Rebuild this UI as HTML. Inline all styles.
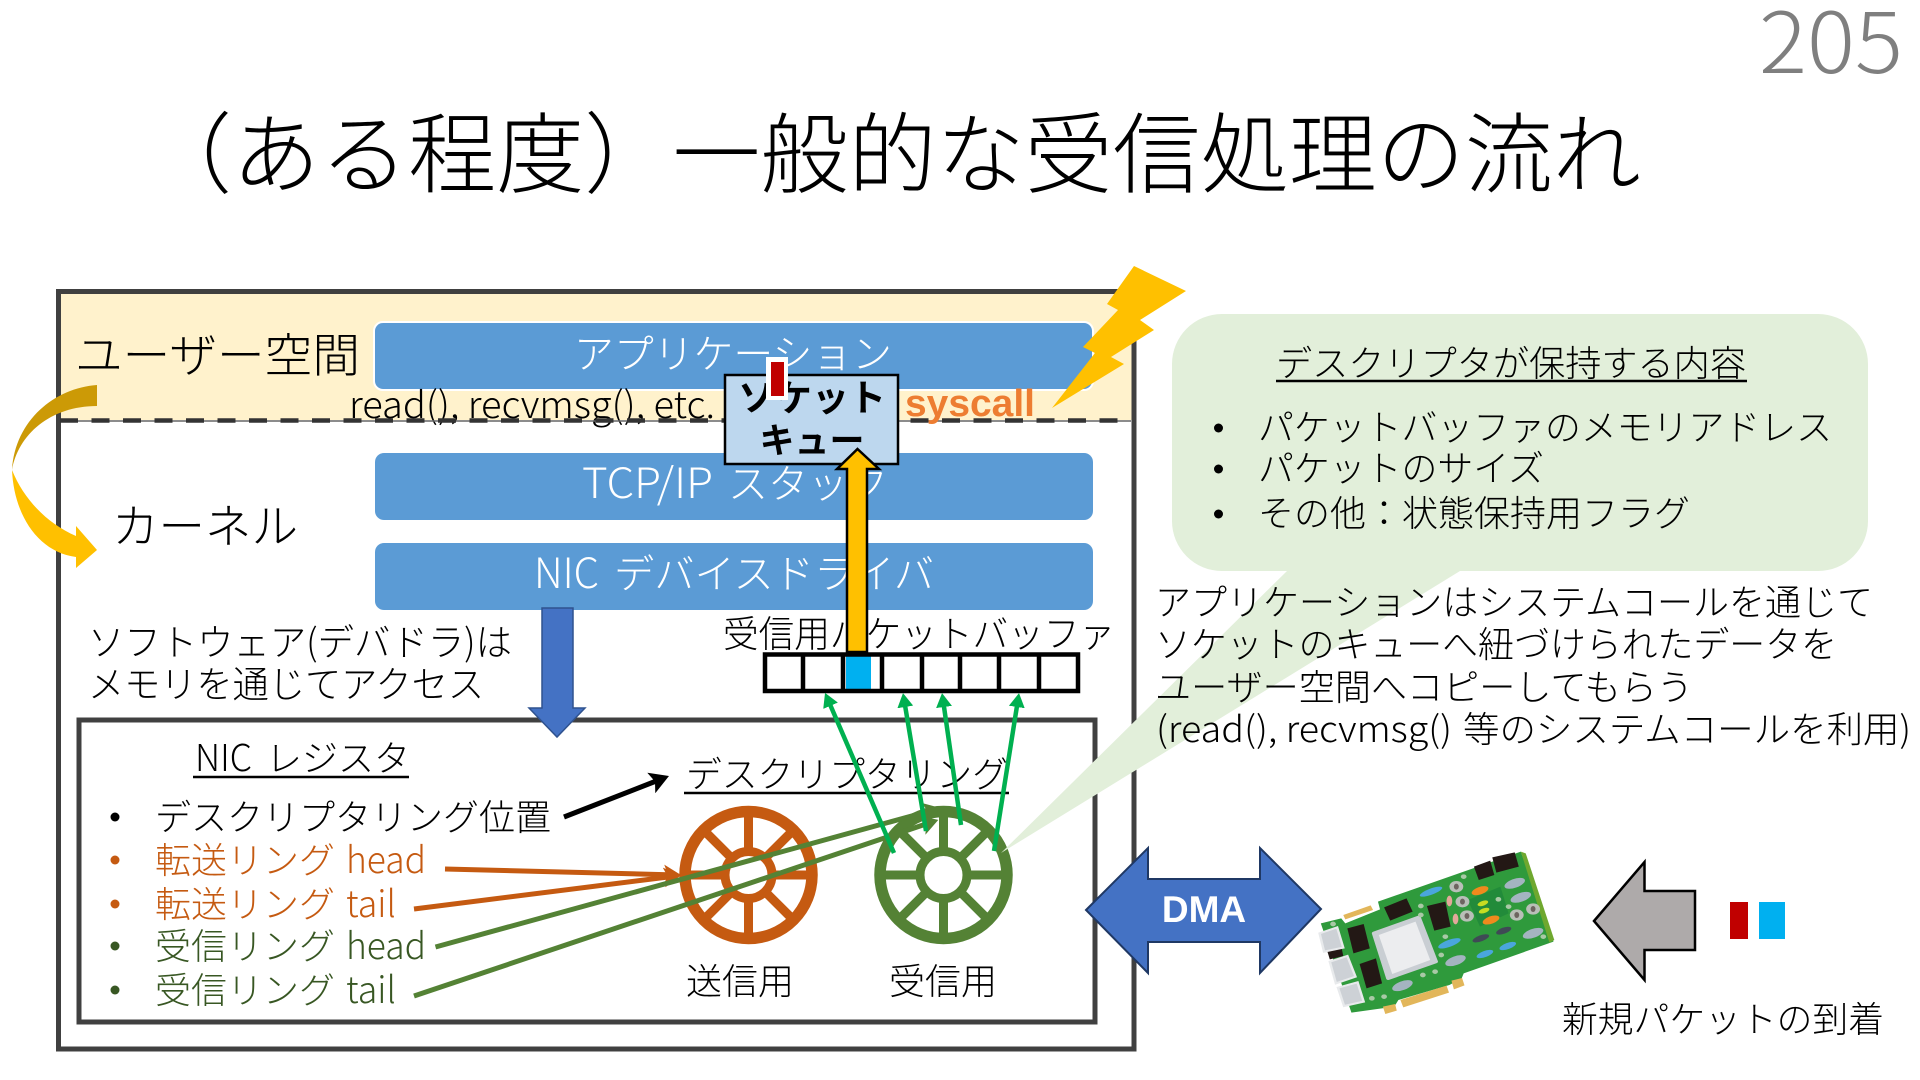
<!DOCTYPE html>
<html lang="ja"><head><meta charset="utf-8"><title>一般的な受信処理の流れ</title>
<style>
html,body{margin:0;padding:0;background:#fff;width:1920px;height:1080px;overflow:hidden}
svg{display:block}
text{font-family:"Noto Sans CJK JP","Liberation Sans","IPAGothic",sans-serif;font-weight:300}
.b{font-weight:700}
.l{font-family:"Liberation Sans","Noto Sans CJK JP",sans-serif}
</style></head><body>
<svg width="1920" height="1080" viewBox="0 0 1920 1080" xmlns="http://www.w3.org/2000/svg">
<defs>
<marker id="mg" markerUnits="userSpaceOnUse" markerWidth="20" markerHeight="20" refX="3" refY="8" orient="auto"><path d="M0,0L14,8L0,16Z" fill="#00B050"/></marker>
<marker id="mk" markerUnits="userSpaceOnUse" markerWidth="24" markerHeight="24" refX="4" refY="11" orient="auto"><path d="M0,0L19,11L0,22L4,11Z" fill="#000"/></marker>
<marker id="mo" markerUnits="userSpaceOnUse" markerWidth="24" markerHeight="24" refX="4" refY="11" orient="auto"><path d="M0,1L17,11L0,21L4,11Z" fill="#C55A11"/></marker>
<marker id="mh" markerUnits="userSpaceOnUse" markerWidth="24" markerHeight="24" refX="4" refY="11" orient="auto"><path d="M0,1L17,11L0,21L4,11Z" fill="#548235"/></marker>
</defs>

<text x="1759" y="73" font-size="84" fill="#7f7f7f" textLength="144" lengthAdjust="spacingAndGlyphs">205</text>
<text x="144" y="186" font-size="88" fill="#000" textLength="1497" lengthAdjust="spacingAndGlyphs">（ある程度）一般的な受信処理の流れ</text>

<!-- frame -->
<rect x="59" y="292" width="1075" height="128" fill="#FFF2CC"/>
<rect x="58.5" y="291.5" width="1075.5" height="757.5" fill="none" stroke="#404040" stroke-width="5"/>
<text x="75" y="372" font-size="46.5" textLength="285" lengthAdjust="spacingAndGlyphs">ユーザー空間</text>
<text x="112" y="543" font-size="46.5">カーネル</text>

<rect x="374" y="322" width="719" height="68" rx="9" fill="#5B9BD5" stroke="#fff" stroke-width="2"/>
<rect x="375" y="453" width="718" height="67" rx="9" fill="#5B9BD5"/>
<rect x="375" y="543" width="718" height="67" rx="9" fill="#5B9BD5"/>
<text x="574" y="368" font-size="40" fill="#fff" textLength="318" lengthAdjust="spacingAndGlyphs">アプリケーション</text>
<text x="582" y="498" font-size="42" fill="#fff" textLength="131" lengthAdjust="spacingAndGlyphs">TCP/IP</text>
<text x="728" y="498" font-size="40" fill="#fff">スタック</text>
<text x="534" y="588" font-size="42" fill="#fff" textLength="65" lengthAdjust="spacingAndGlyphs">NIC</text>
<text x="614" y="588" font-size="40" fill="#fff" textLength="320" lengthAdjust="spacingAndGlyphs">デバイスドライバ</text>

<text x="349" y="418" font-size="37" textLength="366" lengthAdjust="spacingAndGlyphs">read(), recvmsg(), etc.</text>
<line x1="60" y1="421" x2="1131" y2="421" stroke="#666" stroke-width="1.5"/>
<line x1="60" y1="420.5" x2="1131" y2="420.5" stroke="#333" stroke-width="4.5" stroke-dasharray="18 13.5"/>
<text class="l b" x="905" y="416" font-size="38" fill="#ED7D31" textLength="130" lengthAdjust="spacingAndGlyphs">syscall</text>

<!-- lightning -->
<polygon points="1134,266 1107,304 1118,310 1083,347 1095,353 1052,408 1124,364 1111,357 1154,330 1140,320 1186,291" fill="#FFC000"/>

<!-- curved arrow -->
<path d="M97,385C55,388 15,420 12,470C18,435 50,406 97,406Z" fill="#CC9A06"/>
<path d="M12,470C14,515 38,552 76,557L76,568L97,550L76,526L76,536C48,524 24,500 12,470Z" fill="#FFC000"/>

<!-- text left -->
<text x="88" y="655.5" font-size="37" textLength="424" lengthAdjust="spacingAndGlyphs">ソフトウェア(デバドラ)は</text>
<text x="88" y="697.5" font-size="37" textLength="396" lengthAdjust="spacingAndGlyphs">メモリを通じてアクセス</text>
<text x="723" y="647" font-size="37" textLength="392" lengthAdjust="spacingAndGlyphs">受信用パケットバッファ</text>

<!-- buffer -->
<rect x="846" y="655" width="25" height="35" fill="#00B0F0"/>
<rect x="765" y="654.5" width="313" height="36.5" fill="none" stroke="#000" stroke-width="4.5"/>
<path d="M803,654V691M843,654V691M882,654V691M922,654V691M960,654V691M999,654V691M1039,654V691" stroke="#000" stroke-width="4.5" fill="none"/>

<!-- inner box -->
<rect x="79" y="720" width="1016" height="302" fill="none" stroke="#404040" stroke-width="5"/>

<!-- blue arrow -->
<polygon points="542,608 573,608 573,708 585,708 557,737 529,708 542,708" fill="#4472C4" stroke="#2F528F" stroke-width="1.5"/>

<!-- socket queue -->
<rect x="725" y="375" width="173" height="89" fill="#BDD7EE" stroke="#000" stroke-width="2.5"/>
<text class="b" x="812" y="411" font-size="37" text-anchor="middle">ソケット</text>
<text class="b" x="812" y="453" font-size="35" text-anchor="middle">キュー</text>
<rect x="766" y="357" width="22" height="43" fill="#fff"/>
<rect x="771" y="362" width="13" height="34" fill="#C00000"/>
<!-- gold arrow -->
<polygon points="857.5,449 879,469 867,469 867,652 847,652 847,469 837,469" fill="#FFC000" stroke="#000" stroke-width="2.5"/>

<!-- NIC register -->
<text x="195" y="771" font-size="37" textLength="57" lengthAdjust="spacingAndGlyphs">NIC</text>
<text x="266" y="771" font-size="36">レジスタ</text>
<line x1="193" y1="777" x2="409" y2="777" stroke="#000" stroke-width="2.5"/>

<circle cx="115" cy="817" r="4.5" fill="#000"/>
<circle cx="115" cy="860" r="4.5" fill="#C55A11"/>
<circle cx="115" cy="904" r="4.5" fill="#C55A11"/>
<circle cx="115" cy="946" r="4.5" fill="#385723"/>
<circle cx="115" cy="990" r="4.5" fill="#385723"/>
<text x="155" y="830" font-size="36" textLength="396" lengthAdjust="spacingAndGlyphs">デスクリプタリング位置</text>
<text x="155" y="873" font-size="36" fill="#C55A11">転送リング</text>
<text x="346" y="873" font-size="37" fill="#C55A11" textLength="80" lengthAdjust="spacingAndGlyphs">head</text>
<text x="155" y="917" font-size="36" fill="#C55A11">転送リング</text>
<text x="346" y="917" font-size="37" fill="#C55A11" textLength="50" lengthAdjust="spacingAndGlyphs">tail</text>
<text x="155" y="959" font-size="36" fill="#385723">受信リング</text>
<text x="346" y="959" font-size="37" fill="#385723" textLength="80" lengthAdjust="spacingAndGlyphs">head</text>
<text x="155" y="1003" font-size="36" fill="#385723">受信リング</text>
<text x="346" y="1003" font-size="37" fill="#385723" textLength="50" lengthAdjust="spacingAndGlyphs">tail</text>

<text x="686" y="787" font-size="36" textLength="322" lengthAdjust="spacingAndGlyphs">デスクリプタリング</text>
<line x1="684" y1="793" x2="1009" y2="793" stroke="#000" stroke-width="2.5"/>
<text x="686" y="994" font-size="36">送信用</text>
<text x="889" y="994" font-size="36">受信用</text>

<!-- rings -->
<g fill="none" stroke="#C55A11">
<circle cx="748.5" cy="875" r="63.5" stroke-width="11.5"/>
<circle cx="748.5" cy="875" r="23.5" stroke-width="9"/>
<path stroke-width="9" d="M748.5,812V851.5M748.5,898.5V938M685,875H725M772,875H812M704,830.5L732,858.4M765,891.6L793,919.5M793,830.5L765,858.4M732,891.6L704,919.5"/>
</g>
<g fill="none" stroke="#548235">
<circle cx="943.5" cy="875" r="63.5" stroke-width="11.5"/>
<circle cx="943.5" cy="875" r="23.5" stroke-width="9"/>
<path stroke-width="9" d="M943.5,812V851.5M943.5,898.5V938M880,875H920M967,875H1007M899,830.5L927,858.4M960,891.6L988,919.5M988,830.5L960,858.4M927,891.6L899,919.5"/>
</g>

<!-- callout -->
<path d="M1222,314H1818A50,50 0 0 1 1868,364V521A50,50 0 0 1 1818,571H1460L1001,853L1287,571H1222A50,50 0 0 1 1172,521V364A50,50 0 0 1 1222,314Z" fill="#E2EFDA"/>
<text x="1276" y="376" font-size="36" textLength="470" lengthAdjust="spacingAndGlyphs">デスクリプタが保持する内容</text>
<line x1="1276" y1="381" x2="1747" y2="381" stroke="#000" stroke-width="2.5"/>
<circle cx="1218.5" cy="428" r="4.5" fill="#000"/>
<circle cx="1218.5" cy="469" r="4.5" fill="#000"/>
<circle cx="1218.5" cy="514" r="4.5" fill="#000"/>
<text x="1258" y="440" font-size="36" textLength="574" lengthAdjust="spacingAndGlyphs">パケットバッファのメモリアドレス</text>
<text x="1258" y="481" font-size="36" textLength="286" lengthAdjust="spacingAndGlyphs">パケットのサイズ</text>
<text x="1258" y="526" font-size="36" textLength="432" lengthAdjust="spacingAndGlyphs">その他：状態保持用フラグ</text>

<text x="1155" y="615" font-size="36" textLength="718" lengthAdjust="spacingAndGlyphs">アプリケーションはシステムコールを通じて</text>
<text x="1155" y="657" font-size="36" textLength="682" lengthAdjust="spacingAndGlyphs">ソケットのキューへ紐づけられたデータを</text>
<text x="1155" y="700" font-size="36" textLength="538" lengthAdjust="spacingAndGlyphs">ユーザー空間へコピーしてもらう</text>
<text x="1156" y="742" font-size="36" textLength="296" lengthAdjust="spacingAndGlyphs">(read(), recvmsg()</text>
<text x="1463" y="742" font-size="36" textLength="448" lengthAdjust="spacingAndGlyphs">等のシステムコールを利用)</text>

<!-- connectors -->
<line x1="564" y1="817" x2="655" y2="781.5" stroke="#000" stroke-width="5" marker-end="url(#mk)"/>
<line x1="445" y1="869" x2="668" y2="874.7" stroke="#C55A11" stroke-width="5" marker-end="url(#mo)"/>
<line x1="414" y1="909" x2="668" y2="877" stroke="#C55A11" stroke-width="5" marker-end="url(#mo)"/>
<line x1="435.5" y1="947" x2="928" y2="811.5" stroke="#548235" stroke-width="5" marker-end="url(#mh)"/>
<line x1="414" y1="996" x2="926" y2="824" stroke="#548235" stroke-width="5" marker-end="url(#mh)"/>
<line x1="894" y1="853" x2="829.4" y2="703" stroke="#00B050" stroke-width="4.5" marker-end="url(#mg)"/>
<line x1="926" y1="831" x2="904.8" y2="704" stroke="#00B050" stroke-width="4.5" marker-end="url(#mg)"/>
<line x1="961" y1="825" x2="943.6" y2="704" stroke="#00B050" stroke-width="4.5" marker-end="url(#mg)"/>
<line x1="994" y1="851" x2="1017.3" y2="704" stroke="#00B050" stroke-width="4.5" marker-end="url(#mg)"/>

<!-- DMA -->
<polygon points="1086,910 1148,848 1148,879 1260,879 1260,848 1321,909 1260,973 1260,942 1148,942 1148,973" fill="#4472C4" stroke="#1F3864" stroke-width="2"/>
<text class="l b" x="1204" y="922" font-size="37" fill="#fff" text-anchor="middle">DMA</text>

<!-- card -->
<g transform="translate(1280,820) scale(0.4082,0.3333)">
<polygon points="100,310 150,295 160,310 245,268 240,245 590,95 670,365 450,460 445,475 415,495 290,540 280,560 175,578" fill="#2F9A3C"/>
<polygon points="590,95 602,100 672,360 660,368" fill="#6FA82F"/>
<polygon points="155,285 222,256 228,270 160,298" fill="#E2B65A"/>
<polygon points="295,540 408,497 414,518 302,562" fill="#E2B65A"/>
<polygon points="252,560 282,552 286,572 258,582" fill="#E2B65A"/>
<polygon points="420,482 446,474 452,496 426,508" fill="#E2B65A"/>
<polygon points="460,240 540,200 560,280 490,320" fill="#228B3A"/>
<g fill="#231815">
<polygon points="255,262 310,235 325,275 270,302"/>
<polygon points="360,258 405,245 418,320 378,332"/>
<polygon points="165,325 205,312 220,385 180,400"/>
<polygon points="195,432 235,415 250,490 212,505"/>
<polygon points="475,140 515,122 525,165 487,180"/>
<polygon points="520,112 575,97 585,140 530,158"/>
<polygon points="115,390 150,378 155,408 122,418"/>
</g>
<polygon points="230,340 340,292 382,425 265,475" fill="#C9CED3" stroke="#C9CED3" stroke-width="10" stroke-linejoin="round"/>
<polygon points="242,345 332,305 368,420 275,462" fill="#ECEDEF"/>
<g fill="#CDD1D6" stroke="#E8EAEC" stroke-width="6">
<polygon points="97,340 140,322 155,383 108,395"/>
<polygon points="122,425 165,408 185,470 137,490"/>
<polygon points="142,503 190,487 205,545 157,558"/>
</g>
<g fill="#4AA6DC">
<ellipse cx="370" cy="215" rx="30" ry="9" transform="rotate(-25 370 215)"/>
<ellipse cx="415" cy="370" rx="30" ry="10" transform="rotate(-25 415 370)"/>
<ellipse cx="502" cy="402" rx="22" ry="9" transform="rotate(-25 502 402)"/>
<ellipse cx="558" cy="378" rx="22" ry="9" transform="rotate(-25 558 378)"/>
</g>
<g fill="#F08A1D">
<ellipse cx="490" cy="212" rx="22" ry="11" transform="rotate(-25 490 212)"/>
<ellipse cx="517" cy="300" rx="22" ry="11" transform="rotate(-25 517 300)"/>
</g>
<g fill="#C6DC22">
<ellipse cx="497" cy="250" rx="14" ry="7" transform="rotate(-25 497 250)"/>
<ellipse cx="500" cy="272" rx="14" ry="7" transform="rotate(-25 500 272)"/>
</g>
<g fill="#B9BFB8">
<circle cx="432" cy="200" r="17"/><circle cx="447" cy="245" r="17"/><circle cx="458" cy="288" r="17"/><circle cx="580" cy="285" r="17"/><circle cx="620" cy="267" r="17"/>
</g>
<g fill="#6E6460">
<ellipse cx="432" cy="200" rx="6" ry="9"/><ellipse cx="447" cy="245" rx="6" ry="9"/><ellipse cx="458" cy="288" rx="6" ry="9"/><ellipse cx="580" cy="285" rx="6" ry="9"/><ellipse cx="620" cy="267" rx="6" ry="9"/>
</g>
<g fill="#A4B4C0">
<ellipse cx="575" cy="190" rx="27" ry="13" transform="rotate(-25 575 190)"/>
<ellipse cx="590" cy="232" rx="27" ry="13" transform="rotate(-25 590 232)"/>
<ellipse cx="620" cy="340" rx="27" ry="13" transform="rotate(-25 620 340)"/>
<ellipse cx="430" cy="422" rx="27" ry="13" transform="rotate(-25 430 422)"/>
<ellipse cx="300" cy="497" rx="27" ry="13" transform="rotate(-25 300 497)"/>
</g>
<g fill="#3F4A55">
<ellipse cx="492" cy="355" rx="22" ry="9" transform="rotate(-25 492 355)"/>
<ellipse cx="548" cy="332" rx="20" ry="9" transform="rotate(-25 548 332)"/>
</g>
<g fill="#E3A89A">
<ellipse cx="415" cy="243" rx="7" ry="16"/><ellipse cx="430" cy="297" rx="7" ry="16"/>
</g>
<g fill="#A9C9A6">
<circle cx="345" cy="258" r="7"/><circle cx="345" cy="285" r="7"/><circle cx="450" cy="170" r="7"/><circle cx="535" cy="238" r="7"/><circle cx="560" cy="260" r="7"/><circle cx="395" cy="405" r="7"/><circle cx="405" cy="350" r="7"/><circle cx="350" cy="465" r="7"/><circle cx="380" cy="455" r="7"/><circle cx="255" cy="530" r="7"/><circle cx="225" cy="535" r="7"/><circle cx="130" cy="312" r="7"/><circle cx="645" cy="350" r="7"/>
</g>
</g>

<!-- grey arrow -->
<polygon points="1594,921 1644.5,862 1644.5,891 1695,891 1695,950 1644.5,950 1644.5,980" fill="#AEAAAA" stroke="#000" stroke-width="2.5"/>
<rect x="1730" y="902" width="18" height="37" fill="#C00000"/>
<rect x="1759" y="902" width="26" height="37" fill="#00B0F0"/>
<text x="1562" y="1032" font-size="36" textLength="322" lengthAdjust="spacingAndGlyphs">新規パケットの到着</text>
</svg>
</body></html>
